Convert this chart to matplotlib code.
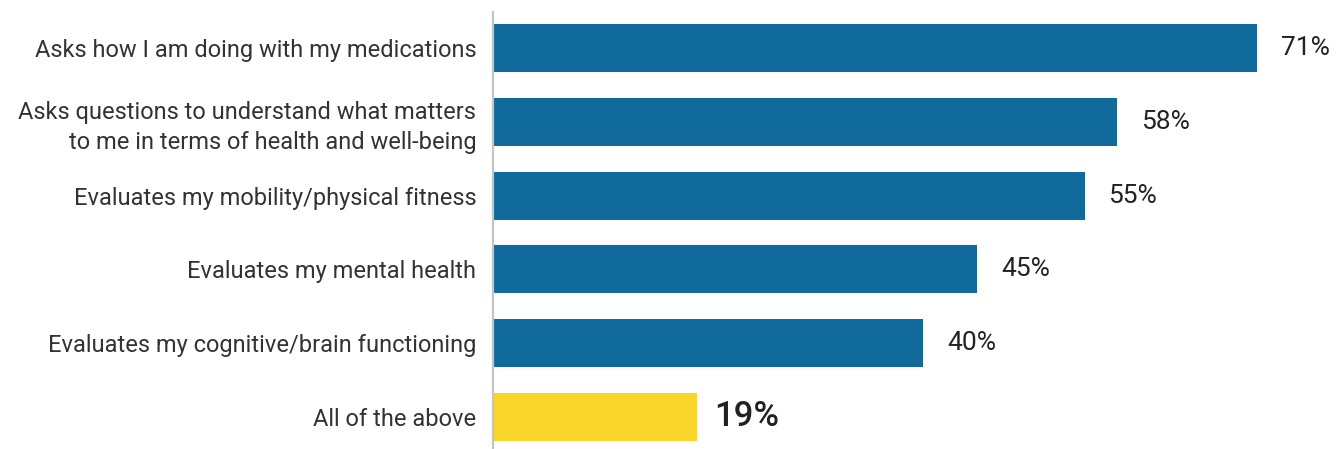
import matplotlib
matplotlib.use("Agg")
import matplotlib.pyplot as plt

categories = [
    "Asks how I am doing with my medications",
    "Asks questions to understand what matters\nto me in terms of health and well-being",
    "Evaluates my mobility/physical fitness",
    "Evaluates my mental health",
    "Evaluates my cognitive/brain functioning",
    "All of the above",
]
values = [71, 58, 55, 45, 40, 19]
value_labels = ["71%", "58%", "55%", "45%", "40%", "19%"]
colors = ["#106a9c"] * 5 + ["#fbd62a"]

plt.rcParams['font.family'] = ['Roboto', 'DejaVu Sans']

W, H = 1342, 449
fig = plt.figure(figsize=(W / 100, H / 100), dpi=100)
left = 493 / W
top_px = 12
ax = fig.add_axes([left, 0, 1 - left, (H - top_px) / H])

y = list(range(len(values)))
ax.barh(y, values, height=0.65, color=colors, zorder=2)
ax.set_ylim(5.434, -0.488)
ax.set_xlim(0, (W - 493) / 10.76)

for sp in ["top", "right", "bottom"]:
    ax.spines[sp].set_visible(False)
ax.spines["left"].set_color("#c4c4c4")
ax.spines["left"].set_linewidth(1.6)
ax.spines["left"].set_zorder(3)
ax.set_xticks([])
ax.set_yticks(y)
ax.set_yticklabels(categories, fontsize=17, color="#333333", linespacing=1.35,
                   fontweight="normal")
ax.tick_params(axis="y", length=0, pad=12)
for lab in ax.get_yticklabels():
    lab.set_horizontalalignment("right")
    lab.set_multialignment("right")

for i, (v, t) in enumerate(zip(values, value_labels)):
    if i == len(values) - 1:
        ax.text(v + 1.6, i, t, va="center", ha="left", fontsize=25, fontweight="medium", color="#222222")
    else:
        ax.text(v + 2.2, i, t, va="center", ha="left", fontsize=19, fontweight="normal", color="#222222")

fig.savefig("out.png", dpi=100)
